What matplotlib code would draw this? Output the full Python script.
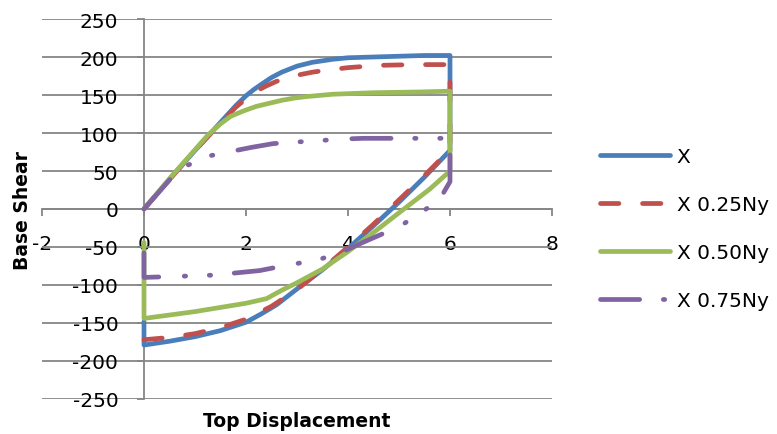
import matplotlib
matplotlib.use("Agg")
import matplotlib.pyplot as plt

plt.rcParams['axes.unicode_minus'] = False
plt.rcParams['font.family'] = ['DejaVu Sans']

# pushover loops: rise to 6, drop at 6, unload back to 0, small rise at 0
x_x = [0, 0.5, 1, 1.5, 1.8, 2, 2.15, 2.3, 2.5, 2.7, 2.85, 3, 3.3, 3.5, 3.7, 4, 4.5, 5, 5.5, 6,
       6, 5.5, 5, 4.5, 4, 3.5, 3.3, 3.1, 2.85, 2.6, 2.3, 2, 1.5, 1, 0.5, 0, 0]
y_x = [0, 39, 77, 114, 136, 149, 157, 164, 173, 180, 184, 188, 193, 195, 197, 199, 200, 201, 202, 202,
       77, 42, 9, -22, -52, -80, -90, -100, -113, -126, -138, -149, -160, -168, -174, -179, -148]

x_25 = [0, 0.5, 1, 1.5, 1.8, 2, 2.2, 2.4, 2.6, 2.8, 3, 3.3, 3.5, 4, 4.6, 5.3, 6,
        6, 5.5, 5, 4.5, 4, 3.5, 3, 2.5, 2, 1.5, 1, 0.5, 0, 0]
y_25 = [0, 39, 77, 113, 134, 145, 155, 162, 168, 172, 176, 180, 182, 186, 189, 190, 190,
        78, 44, 12, -20, -50, -79, -106, -128, -145, -156, -164, -169, -172, -162]

x_50 = [0, 0.5, 1, 1.25, 1.5, 1.7, 1.95, 2.2, 2.45, 2.7, 2.95, 3.2, 3.7, 4.5, 5.4, 6,
        6, 5.6, 5, 4.5, 4, 3.5, 3, 2.7, 2.4, 2, 1, 0, 0]
y_50 = [0, 40, 78, 97, 112, 122, 129, 135, 139, 143, 146, 148, 151, 153, 154, 155,
        50, 26, -5, -31, -56, -79, -97, -107, -118, -124, -135, -144, -44]

x_75 = [0, 0.55, 0.87, 1.29, 1.73, 2.1, 2.53, 2.96, 3.43, 3.88, 4.3, 4.69, 5.14, 5.6, 6,
        6, 5.8, 5.45, 5.08, 4.7, 4.29, 3.9, 3.5, 3.06, 2.65, 2.27, 1.82, 1.36, 0.94, 0.5, 0, 0]
y_75 = [0, 42, 58, 70, 76, 81, 86, 88, 90, 92, 93, 93, 93, 93, 93,
        36, 13, -4, -20, -32, -44, -56, -65, -71, -76, -81, -84, -87, -88, -89, -90, -39]

labels = ['X', 'X 0.25Ny', 'X 0.50Ny', 'X 0.75Ny']
colors = ['#4A7EBB', '#C0504D', '#9BBB59', '#8064A2']
styles = ['-', (0, (3.9, 5)), '-', (0, (8.3, 5, 0.3, 5, 0.3, 5.4))]

xticks = [-2, 0, 2, 4, 6, 8]
yticks = [-250, -200, -150, -100, -50, 0, 50, 100, 150, 200, 250]

W, H = 777, 435
fig = plt.figure(figsize=(W / 100, H / 100), dpi=100)
ax = fig.add_axes([42 / W, 35 / H, 510 / W, 380 / H])

grey = '#868686'
for xs, ys, lab, c, ls in zip([x_x, x_25, x_50, x_75], [y_x, y_25, y_50, y_75],
                              labels, colors, styles):
    ax.plot(xs, ys, color=c, lw=3.4, ls=ls, label=lab,
            solid_capstyle='round', solid_joinstyle='round',
            dash_capstyle='round', dash_joinstyle='round', zorder=3)

ax.set_xlim(-2, 8)
ax.set_ylim(-250, 250)
ax.set_xticks(xticks)
ax.set_yticks(yticks)
ax.set_xticklabels([str(v) for v in xticks])
ax.set_yticklabels([str(v) for v in yticks])

ax.grid(axis='y', color=grey, lw=1.3, zorder=0)
for s in ['top', 'right']:
    ax.spines[s].set_visible(False)
ax.spines['left'].set_position(('data', 0))
ax.spines['bottom'].set_position(('data', 0))
for s in ['left', 'bottom']:
    ax.spines[s].set_color(grey)
    ax.spines[s].set_linewidth(1.3)
    ax.spines[s].set_zorder(1)

ax.tick_params(axis='x', direction='out', length=5, width=1.3, color=grey,
               pad=13, labelsize=14.5, labelcolor='black')
ax.tick_params(axis='y', direction='out', length=5, width=1.3, color=grey,
               pad=13.5, labelsize=14.5, labelcolor='black')
for t in ax.get_xticklabels() + ax.get_yticklabels():
    t.set_zorder(2)

fig.text(297 / W, 1 - 422 / H, 'Top Displacement', ha='center', va='center',
         fontsize=13.5, fontweight='bold')
fig.text(23 / W, 1 - 210 / H, 'Base Shear', ha='center', va='center',
         rotation=90, fontsize=13.5, fontweight='bold')

fig.legend(loc='center left', bbox_to_anchor=(600 / W, 1 - 229.5 / H),
           frameon=False, fontsize=14.5, handlelength=3.5, handletextpad=0.3,
           labelspacing=1.45, borderpad=0, borderaxespad=0)

fig.savefig('out.png', dpi=100)
